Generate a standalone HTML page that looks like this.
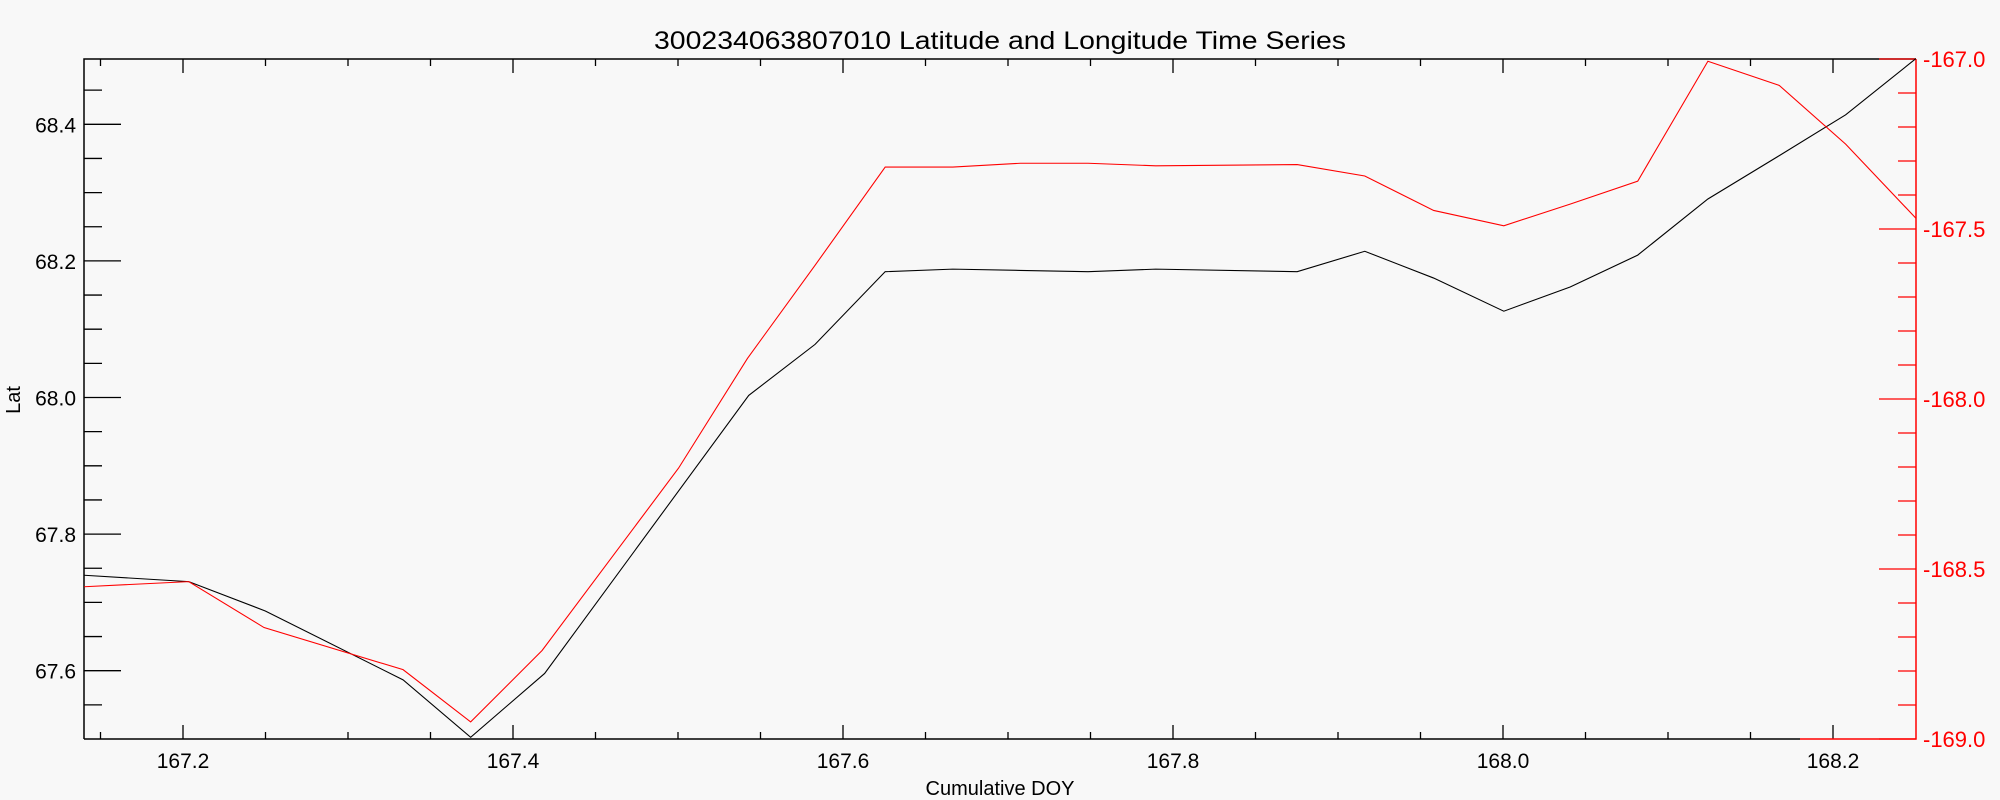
<!DOCTYPE html>
<html><head><meta charset="utf-8"><style>body{margin:0;background:#f8f8f8}svg{display:block}</style></head><body>
<svg width="2000" height="800" xmlns="http://www.w3.org/2000/svg" font-family="Liberation Sans, sans-serif">
<rect width="2000" height="800" fill="#f8f8f8"/>
<text x="1000" y="49" font-size="25" text-anchor="middle" textLength="692" lengthAdjust="spacingAndGlyphs">300234063807010 Latitude and Longitude Time Series</text>
<g stroke="#000" stroke-width="1.5" fill="none">
<path d="M84,739V59H1916"/>
<path d="M84,739H1800"/>
</g>
<g stroke="#000" stroke-width="1.3" id="xt"></g>
<g stroke="#000" stroke-width="1.3" id="yt"></g>
<g stroke="#f00" stroke-width="1.3" id="rt"></g>
<path d="M1800,739H1916V59" stroke="#f00" stroke-width="1.5" fill="none"/>
<g font-size="21" text-anchor="middle" id="xl"></g>
<g font-size="21" text-anchor="end" id="yl"></g>
<g font-size="22" fill="#f00" id="rl"></g>
<text x="1000" y="795" font-size="20" text-anchor="middle">Cumulative DOY</text>
<text x="20" y="400" font-size="20" text-anchor="middle" transform="rotate(-90 20 400)">Lat</text>
<g transform="scale(1.2755)" fill="none" stroke-width="0.85">
<polyline stroke="#000" points="66,451 148,456 208,479 316,533 369,578 427,528 587,310 639,270 694,213 747,211 800,212 853,213 906,211 1017,213 1070,197 1124,218 1179,244 1231,225 1284,200 1339,156 1395,122 1447,90 1502,46"/>
<polyline stroke="#f00" points="66,460 148,456 207,492 316,525 369,566 425,510 532,367 586,281 639,208 694,131 747,131 800,128 853,128 906,130 1017,129 1070,138 1124,165 1179,177 1231,160 1284,142 1339,48 1395,67 1447,113 1502,171"/>
</g>
<script>
var ns="http://www.w3.org/2000/svg";
function el(p,t,a,txt){var e=document.createElementNS(ns,t);for(var k in a)e.setAttribute(k,a[k]);if(txt)e.textContent=txt;document.getElementById(p).appendChild(e);}
for(var i=-2;i<=21;i++){var d=167.2+i*0.05,x=183+(d-167.2)*1650;if(x<86||x>1914)continue;var maj=i%4==0;var L=maj?14:7;
el('xt','line',{x1:x,y1:739,x2:x,y2:739-L});el('xt','line',{x1:x,y1:59,x2:x,y2:59+L});
if(maj)el('xl','text',{x:x,y:768},d.toFixed(1));}
for(var i=0;i<=20;i++){var v=67.5+i*0.05,y=739-(v-67.5)*683;if(y<61||y>737)continue;var maj=i%4==2;
el('yt','line',{x1:84,y1:y,x2:84+(maj?37:18),y2:y});if(maj)el('yl','text',{x:76,y:y+8},v.toFixed(1));}
for(var i=0;i<=20;i++){var v=-169+i*0.1,y=739-i*34;var maj=i%5==0;
el('rt','line',{x1:1916,y1:y,x2:1916-(maj?37:18),y2:y});if(maj)el('rl','text',{x:1923,y:y+8},'-'+(-v).toFixed(1).replace('-',''));}
</script>
</svg>
</body></html>
